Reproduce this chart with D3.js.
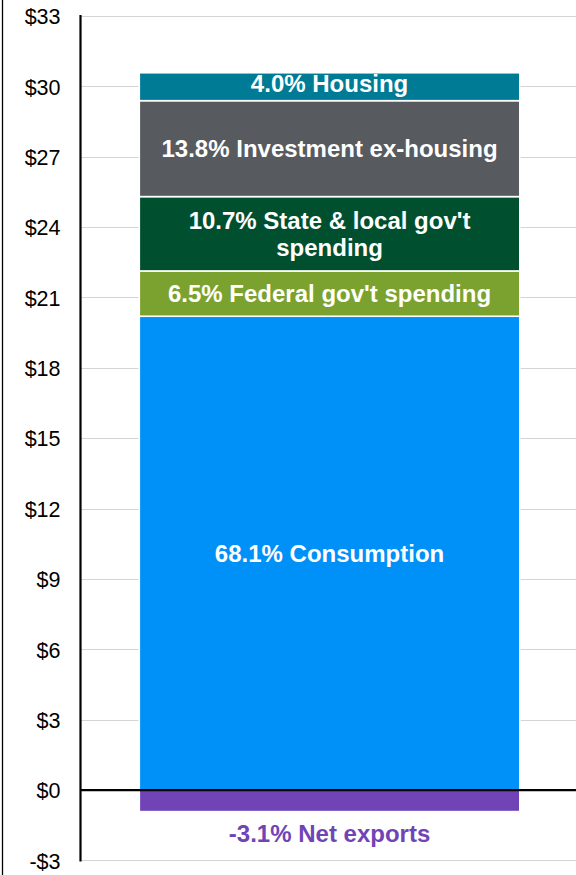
<!DOCTYPE html>
<html>
<head>
<meta charset="utf-8">
<script src="https://cdn.jsdelivr.net/npm/d3@7"></script>
<style>
  html, body { margin: 0; padding: 0; background: #fff; }
  svg { display: block; }
</style>
</head>
<body>
<svg id="chart" width="576" height="875"></svg>
<script>
// ---- Data ----
const categories = ["Consumption", "Federal gov't spending", "State & local gov't spending", "Investment ex-housing", "Housing", "Net exports"];
const shares = [68.1, 6.5, 10.7, 13.8, 4.0, -3.1];          // percent of GDP
const values = [20.20, 1.93, 3.17, 4.09, 1.19, -0.92];      // $ trillions
const labelLines = [
  ["68.1% Consumption"],
  ["6.5% Federal gov't spending"],
  ["10.7% State & local gov't", "spending"],
  ["13.8% Investment ex-housing"],
  ["4.0% Housing"],
  ["-3.1% Net exports"]
];
const colors = ["#0091F8", "#7BA22F", "#00502F", "#575A5E", "#007B96", "#7044B7"];
const tickValues = [-3, 0, 3, 6, 9, 12, 15, 18, 21, 24, 27, 30, 33];
const tickLabels = ["-$3", "$0", "$3", "$6", "$9", "$12", "$15", "$18", "$21", "$24", "$27", "$30", "$33"];

// ---- Layout ----
const svg = d3.select("#chart");
const W = 576, H = 875;
const axisX = 80.5;
const y = d3.scaleLinear().domain([-3, 33]).range([860.4, 16]);
const x = d3.scaleBand().domain(["GDP"]).range([axisX, 578]).paddingInner(0).paddingOuter(0.15);

// stack
let pos = 0, neg = 0;
const segs = values.map((v, i) => {
  let y0, y1;
  if (v >= 0) { y0 = pos; y1 = pos + v; pos = y1; }
  else { y1 = neg; y0 = neg + v; neg = y0; }
  return { i, v, y0, y1 };
});

// left frame line
svg.append("line").attr("x1", 2.5).attr("x2", 2.5).attr("y1", 0).attr("y2", H)
  .attr("stroke", "#000").attr("stroke-width", 1.3);

// gridlines
svg.append("g").selectAll("line").data(tickValues.filter(t => t !== 0)).join("line")
  .attr("x1", axisX).attr("x2", W)
  .attr("y1", d => Math.round(y(d)) + 0.5).attr("y2", d => Math.round(y(d)) + 0.5)
  .attr("stroke", "#D4D4D4").attr("stroke-width", 1.2);

// y axis labels via d3 axis
const yAxis = d3.axisLeft(y).tickValues(tickValues)
  .tickFormat((d, i) => tickLabels[tickValues.indexOf(d)]).tickSize(0).tickPadding(20);
const ag = svg.append("g").attr("transform", `translate(${axisX},0)`).call(yAxis);
ag.select(".domain").remove();
ag.selectAll("text").attr("font-family", "'Liberation Sans', Arial, sans-serif")
  .attr("font-size", 21.5).attr("fill", "#000").attr("dy", "0.36em");

// bars
const bx = 139.3, bw = 519.8 - 139.3;
svg.append("g").selectAll("rect").data(segs).join("rect")
  .attr("x", bx).attr("width", bw)
  .attr("y", d => y(d.y1)).attr("height", d => y(d.y0) - y(d.y1))
  .attr("fill", d => colors[d.i])
  .attr("stroke", "#fff").attr("stroke-width", 1.6);

// y axis line
svg.append("line").attr("x1", axisX).attr("x2", axisX).attr("y1", 15).attr("y2", 861.5)
  .attr("stroke", "#000").attr("stroke-width", 2.2);

// zero line
svg.append("line").attr("x1", axisX).attr("x2", W).attr("y1", y(0)).attr("y2", y(0))
  .attr("stroke", "#000").attr("stroke-width", 2.2);

// labels
const fs = 24, lh = 26.5;
const cx = bx + bw / 2;
const extraDy = [0, 0, 0, 0, -3.4, 0];
const lg = svg.append("g").attr("font-family", "'Liberation Sans', Arial, sans-serif")
  .attr("font-weight", "bold").attr("font-size", fs).attr("text-anchor", "middle");
segs.forEach(d => {
  const lines = labelLines[d.i];
  let center;
  let fill = "#fff";
  if (d.v >= 0) {
    center = (y(d.y0) + y(d.y1)) / 2 + extraDy[d.i];
  } else {
    center = y(d.y0) + 22;
    fill = colors[d.i];
  }
  const firstBaseline = center - (lines.length - 1) * lh / 2 + 0.36 * fs;
  const t = lg.append("text").attr("fill", fill);
  lines.forEach((ln, k) => {
    t.append("tspan").attr("x", cx).attr("y", firstBaseline + k * lh).text(ln);
  });
});
</script>
</body>
</html>
